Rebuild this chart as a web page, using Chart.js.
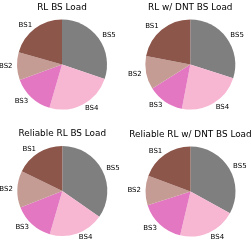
<!DOCTYPE html>
<html>
<head>
<meta charset="utf-8">
<script src="https://cdn.jsdelivr.net/npm/chart.js@4"></script>
<style>
  html, body { margin: 0; padding: 0; background: #fff; }
  #wrap { position: relative; width: 252px; height: 241px; overflow: hidden; }
  canvas { position: absolute; }
</style>
</head>
<body>
<div id="wrap">
  <canvas id="c1" width="126" height="120" style="left:0;top:0"></canvas>
  <canvas id="c2" width="126" height="120" style="left:126px;top:0"></canvas>
  <canvas id="c3" width="126" height="121" style="left:0;top:120px"></canvas>
  <canvas id="c4" width="126" height="121" style="left:126px;top:120px"></canvas>
</div>
<script>
// base stations, in matplotlib order (counter-clockwise from the top)
const stations = ['BS1', 'BS2', 'BS3', 'BS4', 'BS5'];
const stationColors = ['#8c564b', '#c49c94', '#e377c2', '#f7b6d2', '#7f7f7f'];

// load share per base station (%)
const rlLoad = [20.6, 10.0, 14.9, 24.3, 30.2];
const rlDntLoad = [22.0, 12.0, 13.0, 23.1, 29.9];
const reliableLoad = [17.8, 13.2, 14.5, 19.8, 34.7];
const reliableDntLoad = [19.3, 10.6, 16.4, 20.7, 33.0];

const titles = ['RL BS Load', 'RL w/ DNT BS Load', 'Reliable RL BS Load', 'Reliable RL w/ DNT BS Load'];

// title + outside labels like matplotlib's pie (labeldistance 1.1)
const pieText = {
  id: 'pieText',
  afterDraw(chart, args, opts) {
    const ctx = chart.ctx;
    const arcs = chart.getDatasetMeta(0).data;
    const names = chart.data.labels;
    ctx.save();
    ctx.fillStyle = '#000';
    ctx.font = '7px "DejaVu Sans"';
    ctx.textBaseline = 'middle';
    arcs.forEach((arc, i) => {
      const mid = (arc.startAngle + arc.endAngle) / 2;
      const r = arc.outerRadius * 1.1;
      const x = arc.x + r * Math.cos(mid);
      const y = arc.y + r * Math.sin(mid);
      ctx.textAlign = Math.cos(mid) > 0 ? 'left' : 'right';
      ctx.fillText(names[i], x, y);
    });
    const a = arcs[0];
    ctx.font = '8.9px "DejaVu Sans"';
    ctx.textAlign = 'center';
    ctx.textBaseline = 'alphabetic';
    ctx.fillText(opts.text, a.x, a.y - a.outerRadius - 10);
    ctx.restore();
  }
};

function makePie(id, values, title, padding) {
  // chart.js runs clockwise, so feed the slices backwards
  return new Chart(document.getElementById(id), {
    type: 'pie',
    data: {
      labels: stations.slice().reverse(),
      datasets: [{
        data: values.slice().reverse(),
        backgroundColor: stationColors.slice().reverse(),
        borderWidth: 0,
      }],
    },
    options: {
      responsive: false,
      devicePixelRatio: 1,
      animation: false,
      layout: { padding: padding },
      plugins: {
        legend: { display: false },
        tooltip: { enabled: false },
        pieText: { text: title },
      },
    },
    plugins: [pieText],
  });
}

makePie('c1', rlLoad, titles[0], { left: 17, right: 19, top: 19.5, bottom: 10.5 });
makePie('c2', rlDntLoad, titles[1], { left: 19.3, right: 16.7, top: 19.5, bottom: 10.5 });
makePie('c3', reliableLoad, titles[2], { left: 17.3, right: 18.7, top: 26, bottom: 5 });
makePie('c4', reliableDntLoad, titles[3], { left: 19.5, right: 16.5, top: 26.5, bottom: 4.5 });
</script>
</body>
</html>
